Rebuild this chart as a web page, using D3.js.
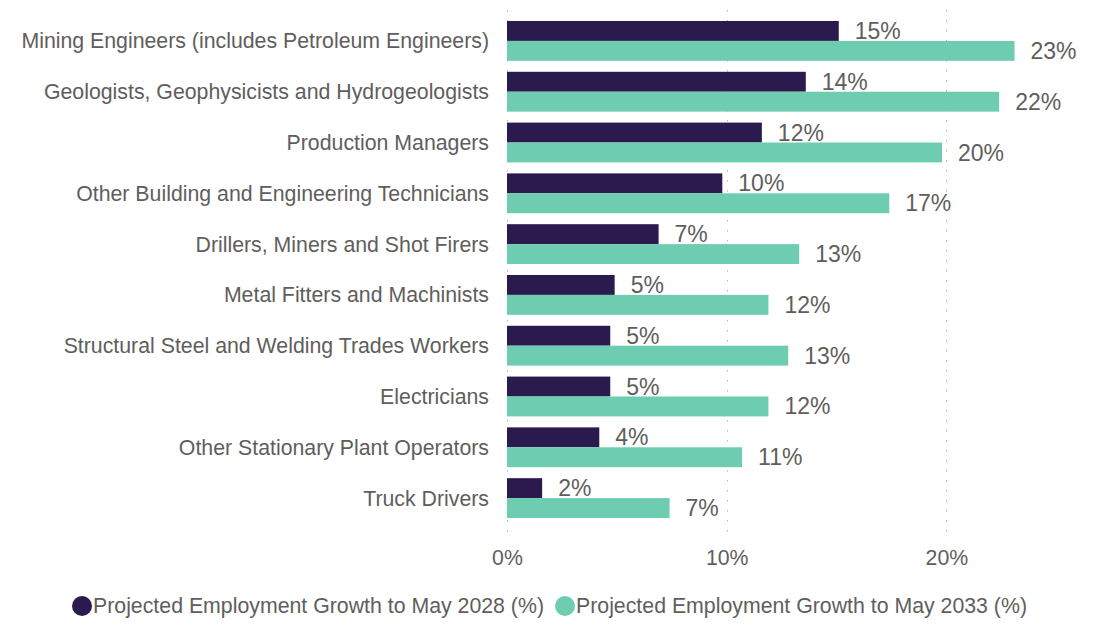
<!DOCTYPE html>
<html>
<head>
<meta charset="utf-8">
<script src="https://cdn.jsdelivr.net/npm/d3@7"></script>
<style>
  body { margin: 0; background: #fff; }
  text { font-family: "Liberation Sans", Arial, sans-serif; }
</style>
</head>
<body>
<div id="chart"></div>
<script>
    var categories = [
        "Mining Engineers (includes Petroleum Engineers)",
        "Geologists, Geophysicists and Hydrogeologists",
        "Production Managers",
        "Other Building and Engineering Technicians",
        "Drillers, Miners and Shot Firers",
        "Metal Fitters and Machinists",
        "Structural Steel and Welding Trades Workers",
        "Electricians",
        "Other Stationary Plant Operators",
        "Truck Drivers"
    ];
    var growth2028 = [15.1, 13.6, 11.6, 9.8, 6.9, 4.9, 4.7, 4.7, 4.2, 1.6];
    var growth2033 = [23.1, 22.4, 19.8, 17.4, 13.3, 11.9, 12.8, 11.9, 10.7, 7.4];
    var seriesNames = [
        "Projected Employment Growth to May 2028 (%)",
        "Projected Employment Growth to May 2033 (%)"
    ];
    var tickValues = [0, 10, 20];

    var width = 1104,
        height = 625,
        colors = ["#2b1a4e", "#6ecdb0"],
        textColor = "#605e5c",
        fontFamily = "'Liberation Sans', Arial, sans-serif";

    var svg = d3.select("#chart").append("svg")
        .attr("width", width)
        .attr("height", height);

    var x = d3.scaleLinear()
        .domain([0, 25])
        .range([507, 507 + 25 * 21.97]);

    var y = d3.scaleBand()
        .domain(categories)
        .range([21, 518])
        .paddingInner(0.216)
        .paddingOuter(0);

    var inner = d3.scaleBand()
        .domain([0, 1])
        .range([0, y.bandwidth()]);

    // dotted gridlines
    svg.append("g")
        .selectAll("line")
        .data(tickValues)
        .enter().append("line")
        .attr("x1", function (d) { return Math.round(x(d)) + 0.5; })
        .attr("x2", function (d) { return Math.round(x(d)) + 0.5; })
        .attr("y1", 10)
        .attr("y2", 540)
        .style("stroke", "#b4b4b4")
        .style("stroke-width", 1)
        .style("stroke-dasharray", "1.5,8.5");

    // x axis labels
    var xAxis = d3.axisBottom(x)
        .tickValues(tickValues)
        .tickFormat(function (d) { return d + "%"; })
        .tickSize(0)
        .tickPadding(0);

    var xg = svg.append("g")
        .attr("transform", "translate(0,558)")
        .call(xAxis);
    xg.select(".domain").remove();
    xg.selectAll("text")
        .attr("dy", "0.35em")
        .style("font-size", "21.3px")
        .style("font-family", fontFamily)
        .style("fill", textColor);

    // y axis labels
    var yAxis = d3.axisLeft(y)
        .tickSize(0)
        .tickPadding(0);

    var yg = svg.append("g")
        .attr("transform", "translate(489,0)")
        .call(yAxis);
    yg.select(".domain").remove();
    yg.selectAll("text")
        .attr("dy", "0.35em")
        .style("font-size", "21.3px")
        .style("font-family", fontFamily)
        .style("fill", textColor);

    var series = [growth2028, growth2033];

    series.forEach(function (values, s) {
        var g = svg.append("g");
        g.selectAll("rect")
            .data(values)
            .enter().append("rect")
            .attr("x", x(0))
            .attr("y", function (d, i) { return y(categories[i]) + inner(s); })
            .attr("width", function (d) { return x(d) - x(0); })
            .attr("height", inner.bandwidth())
            .style("fill", colors[s]);

        g.selectAll("text")
            .data(values)
            .enter().append("text")
            .attr("x", function (d) { return x(d) + 16; })
            .attr("y", function (d, i) { return y(categories[i]) + inner(s) + inner.bandwidth() / 2; })
            .attr("dy", "0.35em")
            .style("font-size", "23px")
            .style("fill", textColor)
            .text(function (d) { return Math.round(d) + "%"; });
    });

    // legend
    var legend = svg.append("g")
        .attr("transform", "translate(0,606)");
    var lx = [82, 565];
    seriesNames.forEach(function (name, s) {
        legend.append("circle")
            .attr("cx", lx[s])
            .attr("cy", 0)
            .attr("r", 10)
            .style("fill", colors[s]);
        legend.append("text")
            .attr("x", lx[s] + 11)
            .attr("y", 0)
            .attr("dy", "0.35em")
            .style("font-size", "21.3px")
            .style("fill", textColor)
            .text(name);
    });
</script>
</body>
</html>
